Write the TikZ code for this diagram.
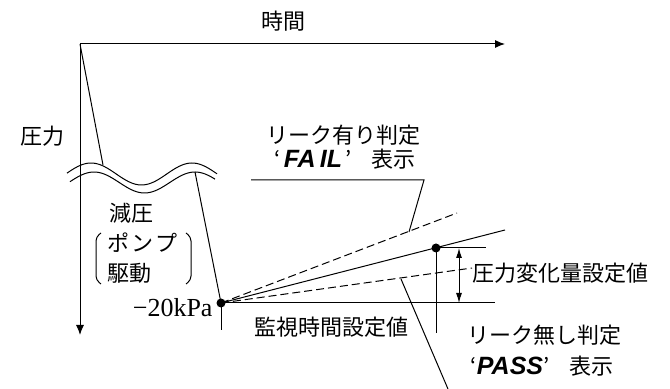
\documentclass[tikz,border=0pt]{standalone}
\usepackage{fontspec}
\setmainfont{Liberation Serif}
\newfontfamily\cjk{Noto Sans CJK JP}
\newfontfamily\segfont{Liberation Sans}
\usepackage{tikz}
\usetikzlibrary{arrows.meta}
\tikzset{
	lbl/.style={font=\cjk\fontsize{11}{13}\selectfont, inner sep=0pt},
	dot/.style={circle, fill, inner sep=0pt, minimum size=4.5pt},
	dashline/.style={dash pattern=on 4pt off 2pt},
	axis/.style={-{Latex[length=5pt,width=4pt]}},
}
\newcommand{\lcdtext}[1]{{\segfont\bfseries\itshape\fontsize{12.5}{13}\selectfont #1}}

\begin{document}
\begin{tikzpicture}[x=0.5pt,y=-0.5pt,line width=0.5pt]
		\useasboundingbox (0,0) rectangle (670,389);
		
		\coordinate (O) at (80,44);
		\coordinate (tend) at (505,44);
		\coordinate (pend) at (80,335);
		\draw[axis] (O) -- (tend);
		\draw[axis] (O) -- (pend);
		\node[lbl] (time) at (283,21) {時間};
		\node[lbl] (pressure) at (42,136) {圧力};
		
		% pump down, axis break
		\coordinate (brk1) at (103,165);
		\coordinate (brk2) at (195,172);
		\node[dot] (start) at (221,303) {};
		\draw (O) -- (brk1);
		\draw (brk2) -- (start.center);
		\draw[domain=67:217, samples=60] plot (\x, {174-11*cos(3.564*(\x-91))});
		\draw[domain=70:215, samples=60] plot (\x, {182.5-10.5*cos(3.564*(\x-94))});
		
		\node[lbl] (pumpa) at (131,213) {減圧};
		\node[lbl, anchor=west] (pumpb) at (107,243) {ポ\hspace{1pt}ン\hspace{1pt}プ};
		\node[lbl, anchor=west] (pumpc) at (107,273) {駆動};
		\draw[rounded corners=2] (101,233) -- (96,237) -- (96,280) -- (101,284);
		\draw[rounded corners=2] (186,233) -- (191,237) -- (191,280) -- (186,284);
		\node[font=\fontsize{13}{15}\selectfont, inner sep=0pt, anchor=east] (kpa) at (213,308) {−20kPa};
		
		\coordinate (failend) at (457,213);
		\coordinate (trueend) at (505,230);
		\coordinate (passend) at (472,268);
		\coordinate (baseend) at (495,303);
		\coordinate (startlow) at (221,330);
		\draw[dashline] (start.center) -- (failend);
		\draw (start.center) -- (trueend);
		\draw[dashline] (start.center) -- (passend);
		\draw (start.center) -- (baseend);
		\draw (start.center) -- (startlow);
		
		\node[dot] (check) at (436,248) {};
		\coordinate (checklow) at (436,333);
		\coordinate (checkright) at (486,248);
		\draw (check.center) -- (checklow);
		\draw (check.center) -- (checkright);
		\coordinate (dtop) at (459,248);
		\coordinate (dbot) at (459,303);
		\draw[{Latex[length=5pt,width=3pt]}-{Latex[length=5pt,width=3pt]}] (dtop) -- (dbot);
		
		\node[lbl] (monitor) at (331,327) {監視時間設定値};
		\node[lbl] (delta) at (560,273) {圧力変化量設定値};
		
		% leak / no leak labels
		\node[lbl] (failtitle) at (343,135) {リーク有り判定};
		\node[lbl] (failtext) at (345,159) {‘\,\lcdtext{FA\,IL}\,’\hspace{10pt}表示};
		\coordinate (faillead1) at (251,180);
		\coordinate (faillead2) at (424,180);
		\coordinate (failhit) at (409,232);
		\draw (faillead1) -- (faillead2) -- (failhit);
		
		\node[lbl] (passtitle) at (544,335) {リーク無し判定};
		\node[lbl] (passtext) at (542,366) {‘\lcdtext{PASS}’\hspace{10pt}表示};
		\coordinate (passhit) at (401,279);
		\coordinate (passlead) at (448,389);
		\draw (passhit) -- (passlead);
	\end{tikzpicture}
\end{document}
